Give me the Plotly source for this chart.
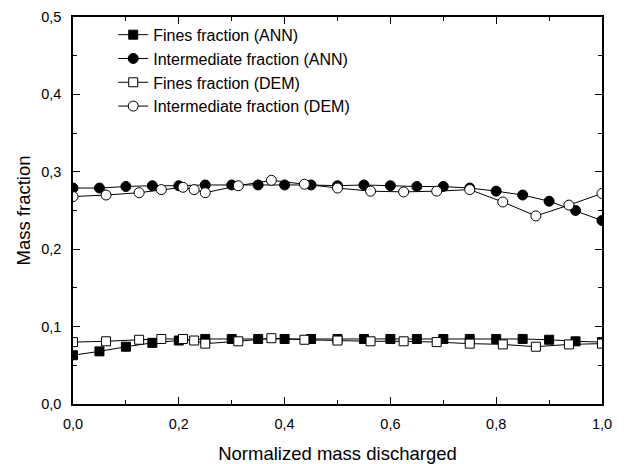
import plotly.graph_objects as go

# ANN predictions (regular grid)
ann_x = [0.00, 0.05, 0.10, 0.15, 0.20, 0.25, 0.30, 0.35, 0.40, 0.45, 0.50,
         0.55, 0.60, 0.65, 0.70, 0.75, 0.80, 0.85, 0.90, 0.95, 1.00]
ann_fines = [0.063, 0.068, 0.074, 0.079, 0.082, 0.084, 0.084, 0.084, 0.084, 0.084, 0.084,
             0.084, 0.084, 0.084, 0.084, 0.084, 0.084, 0.084, 0.083, 0.081, 0.080]
ann_inter = [0.279, 0.279, 0.281, 0.282, 0.282, 0.283, 0.283, 0.283, 0.283, 0.283, 0.282,
             0.283, 0.282, 0.281, 0.281, 0.279, 0.275, 0.270, 0.262, 0.250, 0.237]

# DEM simulation
dem_x = [0.0, 0.0625, 0.125, 0.167, 0.208, 0.229, 0.25, 0.3125, 0.375, 0.4375, 0.5,
         0.5625, 0.625, 0.6875, 0.75, 0.8125, 0.875, 0.9375, 1.0]
dem_fines = [0.080, 0.081, 0.083, 0.084, 0.084, 0.082, 0.078, 0.081, 0.085, 0.083, 0.082,
             0.081, 0.081, 0.080, 0.078, 0.077, 0.074, 0.077, 0.078]
dem_inter = [0.268, 0.270, 0.273, 0.277, 0.280, 0.277, 0.273, 0.282, 0.289, 0.284, 0.279,
             0.275, 0.274, 0.275, 0.277, 0.261, 0.243, 0.257, 0.272]

names = ["Fines fraction (ANN)", "Intermediate fraction (ANN)",
         "Fines fraction (DEM)", "Intermediate fraction (DEM)"]

FONT = "Arial, Liberation Sans, sans-serif"

fig = go.Figure()

def add(x, y, name, symbol, fill, size):
    fig.add_trace(go.Scatter(
        x=x, y=y, name=name, mode="lines+markers",
        line=dict(color="black", width=1),
        marker=dict(symbol=symbol, size=size, color=fill,
                    line=dict(color="black", width=1)),
    ))

add(ann_x, ann_fines, names[0], "square", "black", 9)
add(ann_x, ann_inter, names[1], "circle", "black", 10)
add(dem_x, dem_fines, names[2], "square", "white", 9)
add(dem_x, dem_inter, names[3], "circle", "white", 10)

axis_common = dict(
    showline=True, linecolor="black", linewidth=1.5, mirror="allticks",
    ticks="inside", ticklen=7, tickwidth=1, tickcolor="black",
    showgrid=False, zeroline=False,
    tickfont=dict(family=FONT, size=14.5, color="black"),
)

fig.update_xaxes(
    range=[0, 1], tick0=0, dtick=0.2, tickformat=".1f",
    minor=dict(ticks="inside", ticklen=4, dtick=0.1, tickcolor="black"),
    title=dict(text="Normalized mass discharged",
               font=dict(family=FONT, size=18.5, color="black"), standoff=19),
    ticklabelstandoff=6,
    **axis_common,
)
fig.update_yaxes(
    range=[0, 0.5], tick0=0, dtick=0.1, tickformat=".1f",
    minor=dict(ticks="inside", ticklen=4, dtick=0.05, tickcolor="black"),
    title=dict(text="Mass fraction",
               font=dict(family=FONT, size=18.5, color="black"), standoff=6),
    ticklabelstandoff=7,
    **axis_common,
)

fig.update_layout(
    width=626, height=464,
    margin=dict(l=73, r=24, t=17, b=60, autoexpand=False),
    paper_bgcolor="white", plot_bgcolor="white",
    separators=",.",
    font=dict(family=FONT, size=16, color="black"),
    showlegend=True,
    legend=dict(x=0.076, y=0.998, xanchor="left", yanchor="top",
                bgcolor="rgba(0,0,0,0)", borderwidth=0,
                font=dict(family=FONT, size=16, color="black")),
)

fig.write_html("out.html", config={"displayModeBar": False},
               post_script="document.body.style.margin='0';")
